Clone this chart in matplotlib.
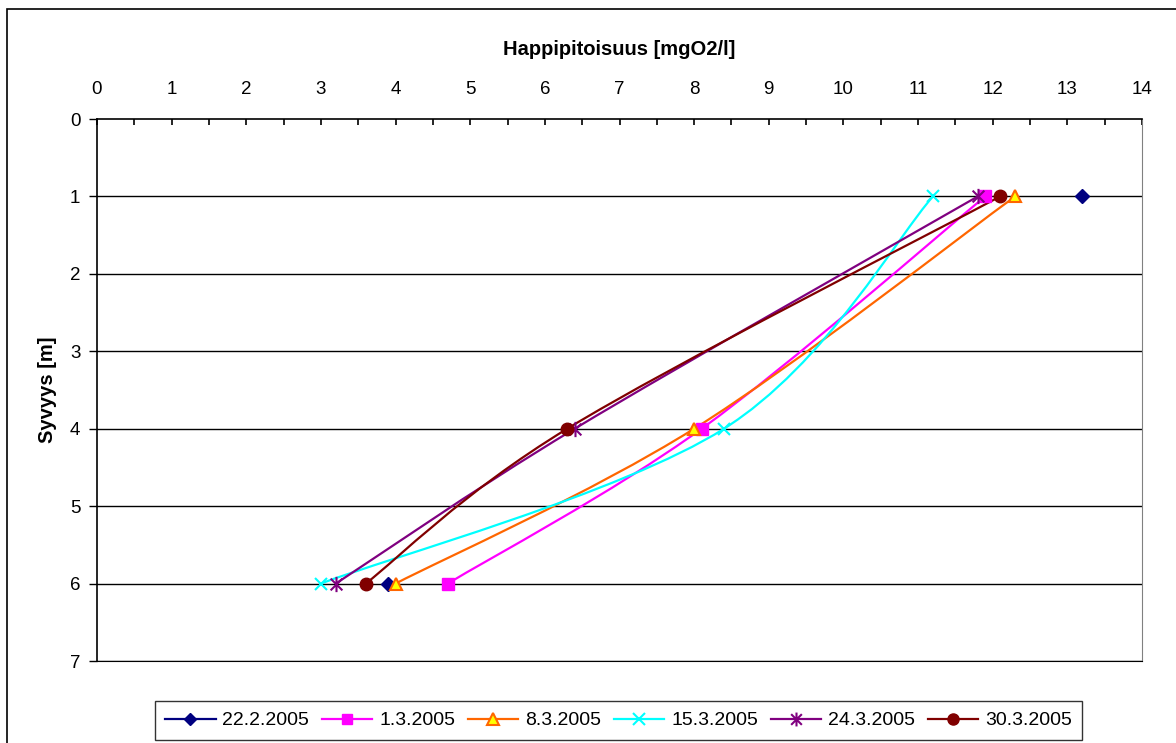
import numpy as np
import matplotlib
matplotlib.use("Agg")
from matplotlib import pyplot as plt
from matplotlib.path import Path
from matplotlib.patches import PathPatch, Rectangle
from matplotlib.lines import Line2D
from matplotlib.ticker import MultipleLocator

plt.rcParams['font.family'] = ['Liberation Sans', 'DejaVu Sans']

depth = [1, 4, 6]
dates = ['22.2.2005', '1.3.2005', '8.3.2005', '15.3.2005', '24.3.2005', '30.3.2005']
oxy_222 = [13.2, np.nan, 3.9]
oxy_013 = [11.9, 8.1, 4.7]
oxy_083 = [12.3, 8.0, 4.0]
oxy_153 = [11.2, 8.4, 3.0]
oxy_243 = [11.8, 6.4, 3.2]
oxy_303 = [12.1, 6.3, 3.6]
series = [oxy_222, oxy_013, oxy_083, oxy_153, oxy_243, oxy_303]

# asterisk marker like excel's: x with a vertical bar
star = Path([(-1, -1), (1, 1), (-1, 1), (1, -1), (0, -1.3), (0, 1.3)],
            [Path.MOVETO, Path.LINETO, Path.MOVETO, Path.LINETO, Path.MOVETO, Path.LINETO])

styles = [
    dict(color='#000080', marker='D', mfc='#000080', mec='#000080', ms=7),
    dict(color='#FF00FF', marker='s', mfc='#FF00FF', mec='#FF00FF', ms=8),
    dict(color='#FF6600', marker='^', mfc='#FFFF00', mec='#FF6600', ms=9, mew=1.5),
    dict(color='#00FFFF', marker='x', mfc='none', mec='#00FFFF', ms=9, mew=1.5),
    dict(color='#800080', marker=star, mfc='none', mec='#800080', ms=11, mew=1.5),
    dict(color='#800000', marker='o', mfc='#800000', mec='#800000', ms=9),
]


def smooth_path(xs, ys):
    # catmull-rom style bezier segments (like excel "smoothed line")
    pts = np.column_stack([xs, ys]).astype(float)
    verts, codes = [], []
    n = len(pts)
    for i in range(n - 1):
        p1, p2 = pts[i], pts[i + 1]
        if np.isnan(p1).any() or np.isnan(p2).any():
            continue
        p0 = pts[i - 1] if i > 0 and not np.isnan(pts[i - 1]).any() else p1
        p3 = pts[i + 2] if i + 2 < n and not np.isnan(pts[i + 2]).any() else p2
        c1 = p1 + (p2 - p0) / 6
        c2 = p2 - (p3 - p1) / 6
        if not verts or not np.allclose(verts[-1], p1):
            verts.append(p1)
            codes.append(Path.MOVETO)
        verts += [c1, c2, p2]
        codes += [Path.CURVE4] * 3
    if not verts:
        return None
    return Path(verts, codes)


fig = plt.figure(figsize=(11.76, 7.43), dpi=100)
fig.patches.append(Rectangle((7 / 1176, -0.1), 1.2, 1 - 9 / 743 + 0.1,
                             transform=fig.transFigure, fill=False,
                             edgecolor='black', lw=1.2))
ax = fig.add_axes([97 / 1176, 1 - 661 / 743, (1142 - 97) / 1176, (661 - 119) / 743])

handles = []
for vals, st, lab in zip(series, styles, dates):
    p = smooth_path(vals, depth)
    if p is not None:
        ax.add_patch(PathPatch(p, facecolor='none', edgecolor=st['color'], lw=1.6, zorder=3))
    ax.plot(vals, depth, linestyle='none', marker=st['marker'], mfc=st['mfc'],
            mec=st['mec'], ms=st['ms'], mew=st.get('mew', 1), zorder=4, clip_on=False)
    handles.append(Line2D([], [], color=st['color'], lw=1.6, marker=st['marker'],
                          mfc=st['mfc'], mec=st['mec'], ms=st['ms'] - 1,
                          mew=st.get('mew', 1), label=lab))

ax.set_xlim(0, 14)
ax.set_ylim(7, 0)
ax.xaxis.set_ticks_position('top')
ax.xaxis.set_label_position('top')
ax.xaxis.set_major_locator(MultipleLocator(1))
ax.xaxis.set_minor_locator(MultipleLocator(0.5))
ax.yaxis.set_major_locator(MultipleLocator(1))
ax.tick_params(axis='x', which='both', direction='in', length=4, width=1.2, pad=15, labelsize=13.5)
ax.tick_params(axis='y', which='major', direction='out', length=6, width=1, pad=6, labelsize=13.5)
ax.set_xlabel('Happipitoisuus [mgO2/l]', fontsize=14.5, fontweight='bold', labelpad=19)
ax.set_ylabel('Syvyys [m]', fontsize=14.5, fontweight='bold', labelpad=9)

for y in range(1, 8):
    ax.axhline(y, color='black', lw=1, zorder=1)
ax.spines['top'].set_linewidth(1.2)
ax.spines['left'].set_linewidth(1.2)
ax.spines['right'].set_color('#808080')
ax.spines['bottom'].set_color('black')

fig.legend(handles=handles, loc='center', bbox_to_anchor=(618.5 / 1176, 1 - 720.5 / 743),
           ncol=6, fontsize=14, frameon=True, fancybox=False, edgecolor='black',
           handlelength=2.6, handletextpad=0.35, columnspacing=0.65, borderpad=0.53,
           borderaxespad=0)

fig.savefig('out.png', dpi=100)
